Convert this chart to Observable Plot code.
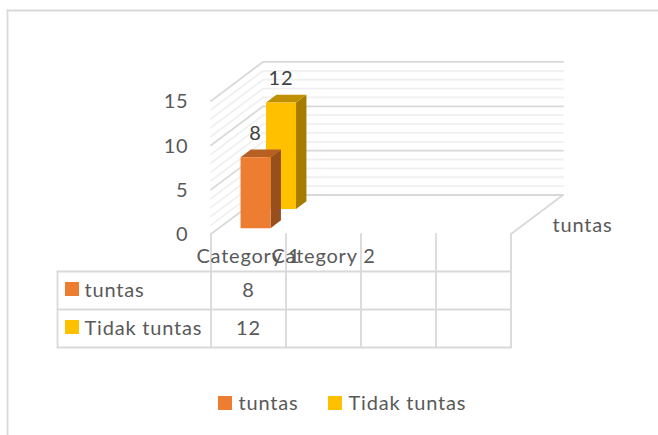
<!DOCTYPE html>
<html><head><meta charset="utf-8">
<script src="https://cdn.jsdelivr.net/npm/d3@7"></script>
<script src="https://cdn.jsdelivr.net/npm/@observablehq/plot@0.6"></script>
<style>html,body{margin:0;padding:0;background:#fff;overflow:hidden}svg{display:block}</style>
</head><body><div id="c"></div>
<script>
// data
const categories = ["Category 1", "Category 2"];
const seriesNames = ["tuntas", "Tidak tuntas"];
const tuntas = [8];
const tidakTuntas = [12];
const yTicks = [0, 5, 10, 15];
const minorTicks = d3.range(0, 16);
const seriesValues = [tuntas, tidakTuntas];

// styles
const ORANGE = {front:"#ed7d31", side:"#97501d", top:"#b85f24"};
const YELLOW = {front:"#ffc000", side:"#a67c00", top:"#bf9000"};
const palettes = [ORANGE, YELLOW];
const INK = "#595959", MAJOR = "#d9d9d9", MINOR = "#f0f0f0";
const FONT = 20;

// projection: x in category widths, y in value units, oblique depth 0..1
const catPx = 75, unitPx = 8.87, x0 = 210.5, y0 = 233.5;
const depthX = 52 / catPx, depthY = 39 / unitPx;
const slots = 4;
const P = (c, v, d = 0) => ({x: c + d * depthX, y: v + d * depthY});
const X = px => (px - x0) / catPx, Y = py => (y0 - py) / unitPx;

const barInset = 0.29, barWidth = 0.4, barDepth = 0.2;
const depthStart = [0.15, 0.64];

const face = (pts, fill) => Plot.line(pts, {x:"x", y:"y", fill, stroke:"none"});
const seg = (a, b, stroke = MAJOR, strokeWidth = 1.8) =>
  Plot.line([a, b], {x:"x", y:"y", stroke, strokeWidth});

const marks = [];
// frame
marks.push(seg({x:X(7),y:Y(10)},{x:X(658),y:Y(10)},MAJOR,1.8));
marks.push(seg({x:X(7),y:Y(10)},{x:X(7),y:Y(435)},MAJOR,1.8));
// walls
for (const v of minorTicks) {
  if (yTicks.includes(v)) continue;
  marks.push(seg(P(0,v,0),P(0,v,1),MINOR),seg(P(0,v,1),P(slots,v,1),MINOR));
}
for (const v of yTicks) {
  marks.push(seg(P(0,v,0),P(0,v,1)),seg(P(0,v,1),P(slots,v,1)));
}
// floor right edge
marks.push(seg(P(slots,0,0),P(slots,0,1)));
// table
const tableTop = Y(271), rowH = 38/unitPx, keyLeft = X(57);
for (let i = 0; i <= slots; i++) marks.push(seg(P(i,0),{x:i,y:tableTop-2*rowH}));
for (let r = 0; r <= 2; r++) marks.push(seg({x:keyLeft,y:tableTop-r*rowH},{x:slots,y:tableTop-r*rowH}));
marks.push(seg({x:keyLeft,y:tableTop},{x:keyLeft,y:tableTop-2*rowH}));

// bars, back to front
for (const s of [1, 0]) {
  const v = seriesValues[s][0], c = 0, p = palettes[s];
  const l = c + barInset, r = l + barWidth, d0 = depthStart[s], d1 = d0 + barDepth;
  marks.push(
    face([P(r,0,d0),P(r,0,d1),P(r,v,d1),P(r,v,d0)], p.side),
    face([P(l,v,d0),P(r,v,d0),P(r,v,d1),P(l,v,d1)], p.top),
    face([P(l,0,d0),P(r,0,d0),P(r,v,d0),P(l,v,d0)], p.front),
    Plot.text([P(l+barWidth/2,v,d0)], {x:"x", y:"y", text:()=>String(v), dy:-24,
      fontSize:FONT, fill:"#404040"})
  );
}

const label = (x, y, text, anchor="start", fill=INK) =>
  Plot.text([{x,y,text}], {x:"x", y:"y", text:"text", textAnchor:anchor, fontSize:FONT, fill});
// y axis labels
marks.push(Plot.text(yTicks, {x:()=>X(188), y:d=>d, dy:1, text:d=>String(d), textAnchor:"end", fontSize:FONT, fill:INK}));
// category labels
categories.forEach((c,i)=>marks.push(label(i+0.5, Y(256), c, "middle")));
// depth axis label
marks.push(label(X(552), Y(225), seriesNames[0]));
// table rows
const swatch = (px, py, fill) => Plot.rect([0], {x1:X(px), x2:X(px+14), y1:Y(py), y2:Y(py+14), fill});
seriesNames.forEach((n,r)=>{
  const cy = tableTop-(r+0.5)*rowH;
  marks.push(
    swatch(65, 282+38*r, palettes[r].front),
    label(X(84), cy, n),
    label(0.5, cy, String(seriesValues[r][0]), "middle")
  );
});
// legend
const legendY = Y(403);
const legendAt = [218, 328];
seriesNames.forEach((n,i)=>marks.push(
  swatch(legendAt[i], 396, palettes[i].front),
  label(X(legendAt[i]+20), legendY, n)
));

const plot = Plot.plot({
  width:658, height:435, margin:0,
  style:{fontFamily:"Lato, Carlito, sans-serif", background:"#fff", letterSpacing:"0.8px"},
  x:{domain:[X(0),X(658)], range:[0,658], axis:null},
  y:{domain:[Y(435),Y(0)], range:[435,0], axis:null},
  marks
});
document.getElementById("c").append(plot);
</script></body></html>
